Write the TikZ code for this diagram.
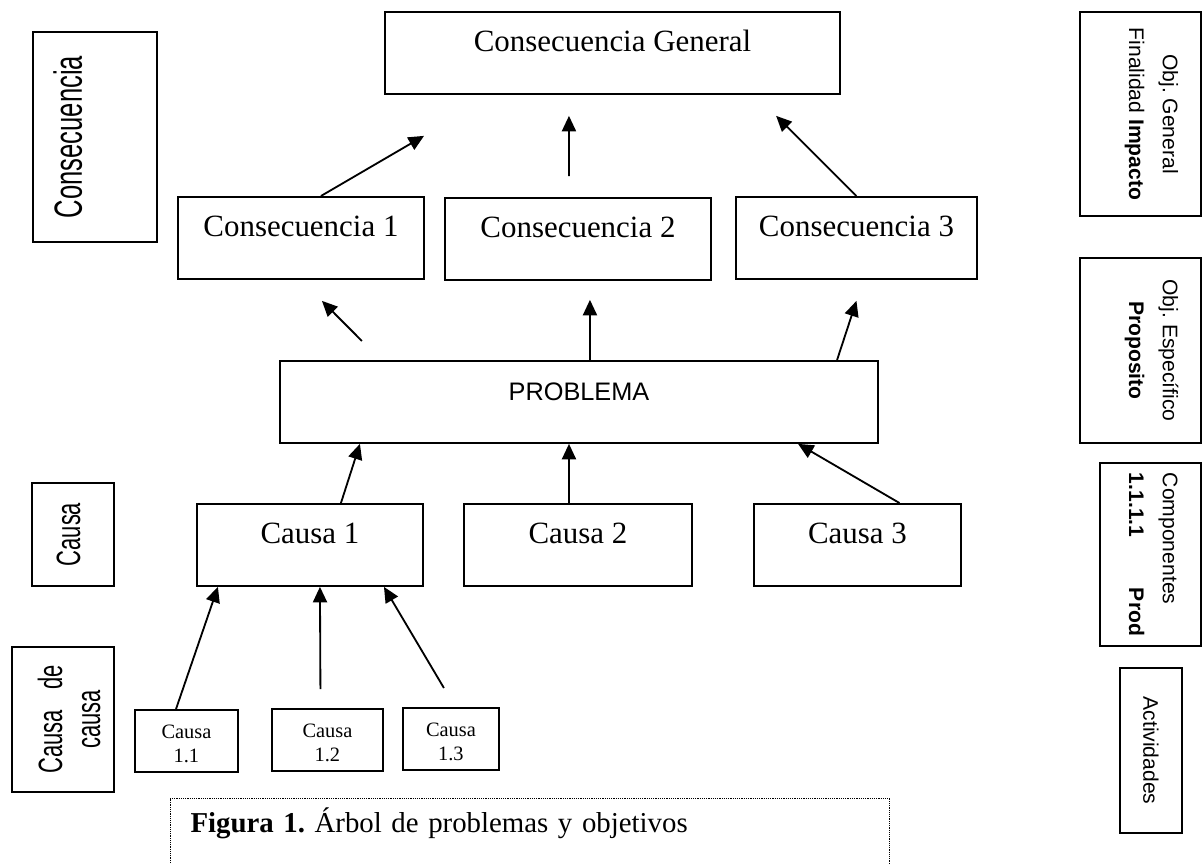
\documentclass[tikz,border=0pt]{standalone}
\usepackage{fontspec}
\setmainfont{Liberation Serif}
\newfontfamily\arialfont{Liberation Sans}
\newfontfamily\arialnarrow[FakeStretch=0.65]{Liberation Sans}
\usepackage{tikz}
\usetikzlibrary{arrows.meta}
\frenchspacing
\tikzset{>={Triangle[length=11pt,width=10pt]}}
\tikzstyle{block} = [draw, line width=1.3pt, rectangle, anchor=north west, inner sep=0pt, text height=1cm, text depth=1.05cm, font=\fontsize{22}{26}\selectfont]
\tikzstyle{smallblock} = [draw, line width=1.3pt, rectangle, anchor=north west, inner sep=0pt, text height=0.725cm, text depth=0.825cm, font=\fontsize{14.5}{17}\selectfont]
\tikzstyle{sidebox} = [draw, line width=1.3pt, rectangle, inner sep=0pt]
\tikzstyle{leftlabel} = [sidebox, rotate=90, font=\arialnarrow\fontsize{24}{27}\selectfont]
\tikzstyle{rightlabel} = [sidebox, rotate=-90, font=\arialfont\fontsize{15}{24}\selectfont]
\tikzstyle{captionbox} = [draw, line width=0.7pt, dash pattern=on 0.6pt off 0.7pt, anchor=north west, inner xsep=0.5cm, inner ysep=0pt, text width=16.975cm, align=left, text height=0.85cm, text depth=1.5cm, font=\fontsize{20.5}{24}\selectfont]

\begin{document}
\begin{tikzpicture}[x=0.025cm, y=-0.025cm, line width=1.3pt]
	\useasboundingbox (0,0) rectangle (1202,863);

	% tree
	\node [block, minimum width=11.375cm] (congen) at (384,11) {Consecuencia General};
	\node [block, minimum width=6.15cm] (con1) at (177,196) {Consecuencia 1};
	\node [block, minimum width=6.65cm] (con2) at (444,197) {Consecuencia 2};
	\node [block, minimum width=6.025cm] (con3) at (735,196) {Consecuencia 3};
	\node [block, minimum width=14.95cm, font=\arialfont\fontsize{18}{22}\selectfont] (prob) at (279,360) {PROBLEMA};
	\node [block, minimum width=5.65cm] (causa1) at (196,503) {Causa 1};
	\node [block, minimum width=5.7cm] (causa2) at (463,503) {Causa 2};
	\node [block, minimum width=5.175cm] (causa3) at (753,503) {Causa 3};
	\node [smallblock, minimum width=2.575cm] (c11) at (134,709) {\begin{tabular}[t]{@{}c@{}}Causa\\1.1\end{tabular}};
	\node [smallblock, minimum width=2.775cm] (c12) at (271,708) {\begin{tabular}[t]{@{}c@{}}Causa\\1.2\end{tabular}};
	\node [smallblock, minimum width=2.4cm] (c13) at (402,707) {\begin{tabular}[t]{@{}c@{}}Causa\\1.3\end{tabular}};

	% left labels
	\node [leftlabel, minimum width=5.25cm, minimum height=3.1cm, font=\arialnarrow\fontsize{28}{32}\selectfont, text height=0.7cm, text depth=1.35cm] (lcons) at (95,137) {Consecuencia};
	\node [leftlabel, minimum width=2.575cm, minimum height=2.05cm, text height=0.6cm, text depth=0.25cm] (lcausa) at (73,534.5) {Causa};
	\node [leftlabel, minimum width=3.625cm, minimum height=2.55cm, text height=2.135cm, text depth=0.285cm] (lcc) at (63,719.5) {\begin{tabular}[b]{@{}c@{}}Causa\hspace{0.6em}de\\causa\end{tabular}};

	% right labels
	\node [rightlabel, minimum width=5.1cm, minimum height=3.025cm, text depth=0.86cm] (rgen) at (1140.5,114) {\begin{tabular}[b]{@{}c@{}}Obj. General\\Finalidad \textbf{Impacto}\end{tabular}};
	\node [rightlabel, minimum width=4.625cm, minimum height=3.025cm, text depth=0.86cm] (resp) at (1140.5,350.5) {\begin{tabular}[b]{@{}c@{}}Obj. Específico\\\textbf{Proposito}\end{tabular}};
	\node [rightlabel, minimum width=4.575cm, minimum height=2.525cm, text depth=0.36cm] (rcomp) at (1150.5,554.5) {\begin{tabular}[b]{@{}l@{}}Componentes\\\makebox[4.075cm]{\textbf{1.1.1.1}\hfill\textbf{Prod}}\end{tabular}};
	\node [rightlabel, minimum width=4.125cm, minimum height=1.55cm] (ract) at (1151,750.5) {Actividades};

	% caption
	\node [captionbox] (caption) at (170,798) {\textbf{Figura 1.} Árbol de problemas y objetivos};

	% arrows
	\draw [->] ([xshift=0.5cm]con1.north) -- ([xshift=-4.71cm,yshift=-1.025cm]congen.south);
	\draw [->] ([xshift=-0.225cm,yshift=0.525cm]con2.north) -- ([xshift=-1.0875cm,yshift=-0.525cm]congen.south);
	\draw [->] (con3.north) -- ([xshift=4.09cm,yshift=-0.525cm]congen.south);
	\draw [->] ([xshift=-5.425cm,yshift=0.475cm]prob.north) -- ([xshift=0.525cm,yshift=-0.525cm]con1.south);
	\draw [->] ([xshift=0.275cm]prob.north) -- ([xshift=0.3cm,yshift=-0.475cm]con2.south);
	\draw [->] ([xshift=6.45cm]prob.north) -- ([yshift=-0.525cm]con3.south);
	\draw [->] ([xshift=0.775cm]causa1.north) -- ([xshift=-5.475cm]prob.south);
	\draw [->] ([xshift=-0.225cm]causa2.north) -- ([xshift=-0.25cm]prob.south);
	\draw [->] ([xshift=1.05cm]causa3.north) -- ([xshift=5.475cm]prob.south);
	\draw [->] ([xshift=-0.26cm]c11.north) -- ([xshift=-2.3cm]causa1.south);
	\draw [->] ([xshift=-0.175cm,yshift=0.475cm]c12.north) -- ([xshift=0.25cm]causa1.south);
	\draw [->] ([xshift=-0.175cm,yshift=0.475cm]c13.north) -- ([xshift=1.85cm]causa1.south);
\end{tikzpicture}
\end{document}
